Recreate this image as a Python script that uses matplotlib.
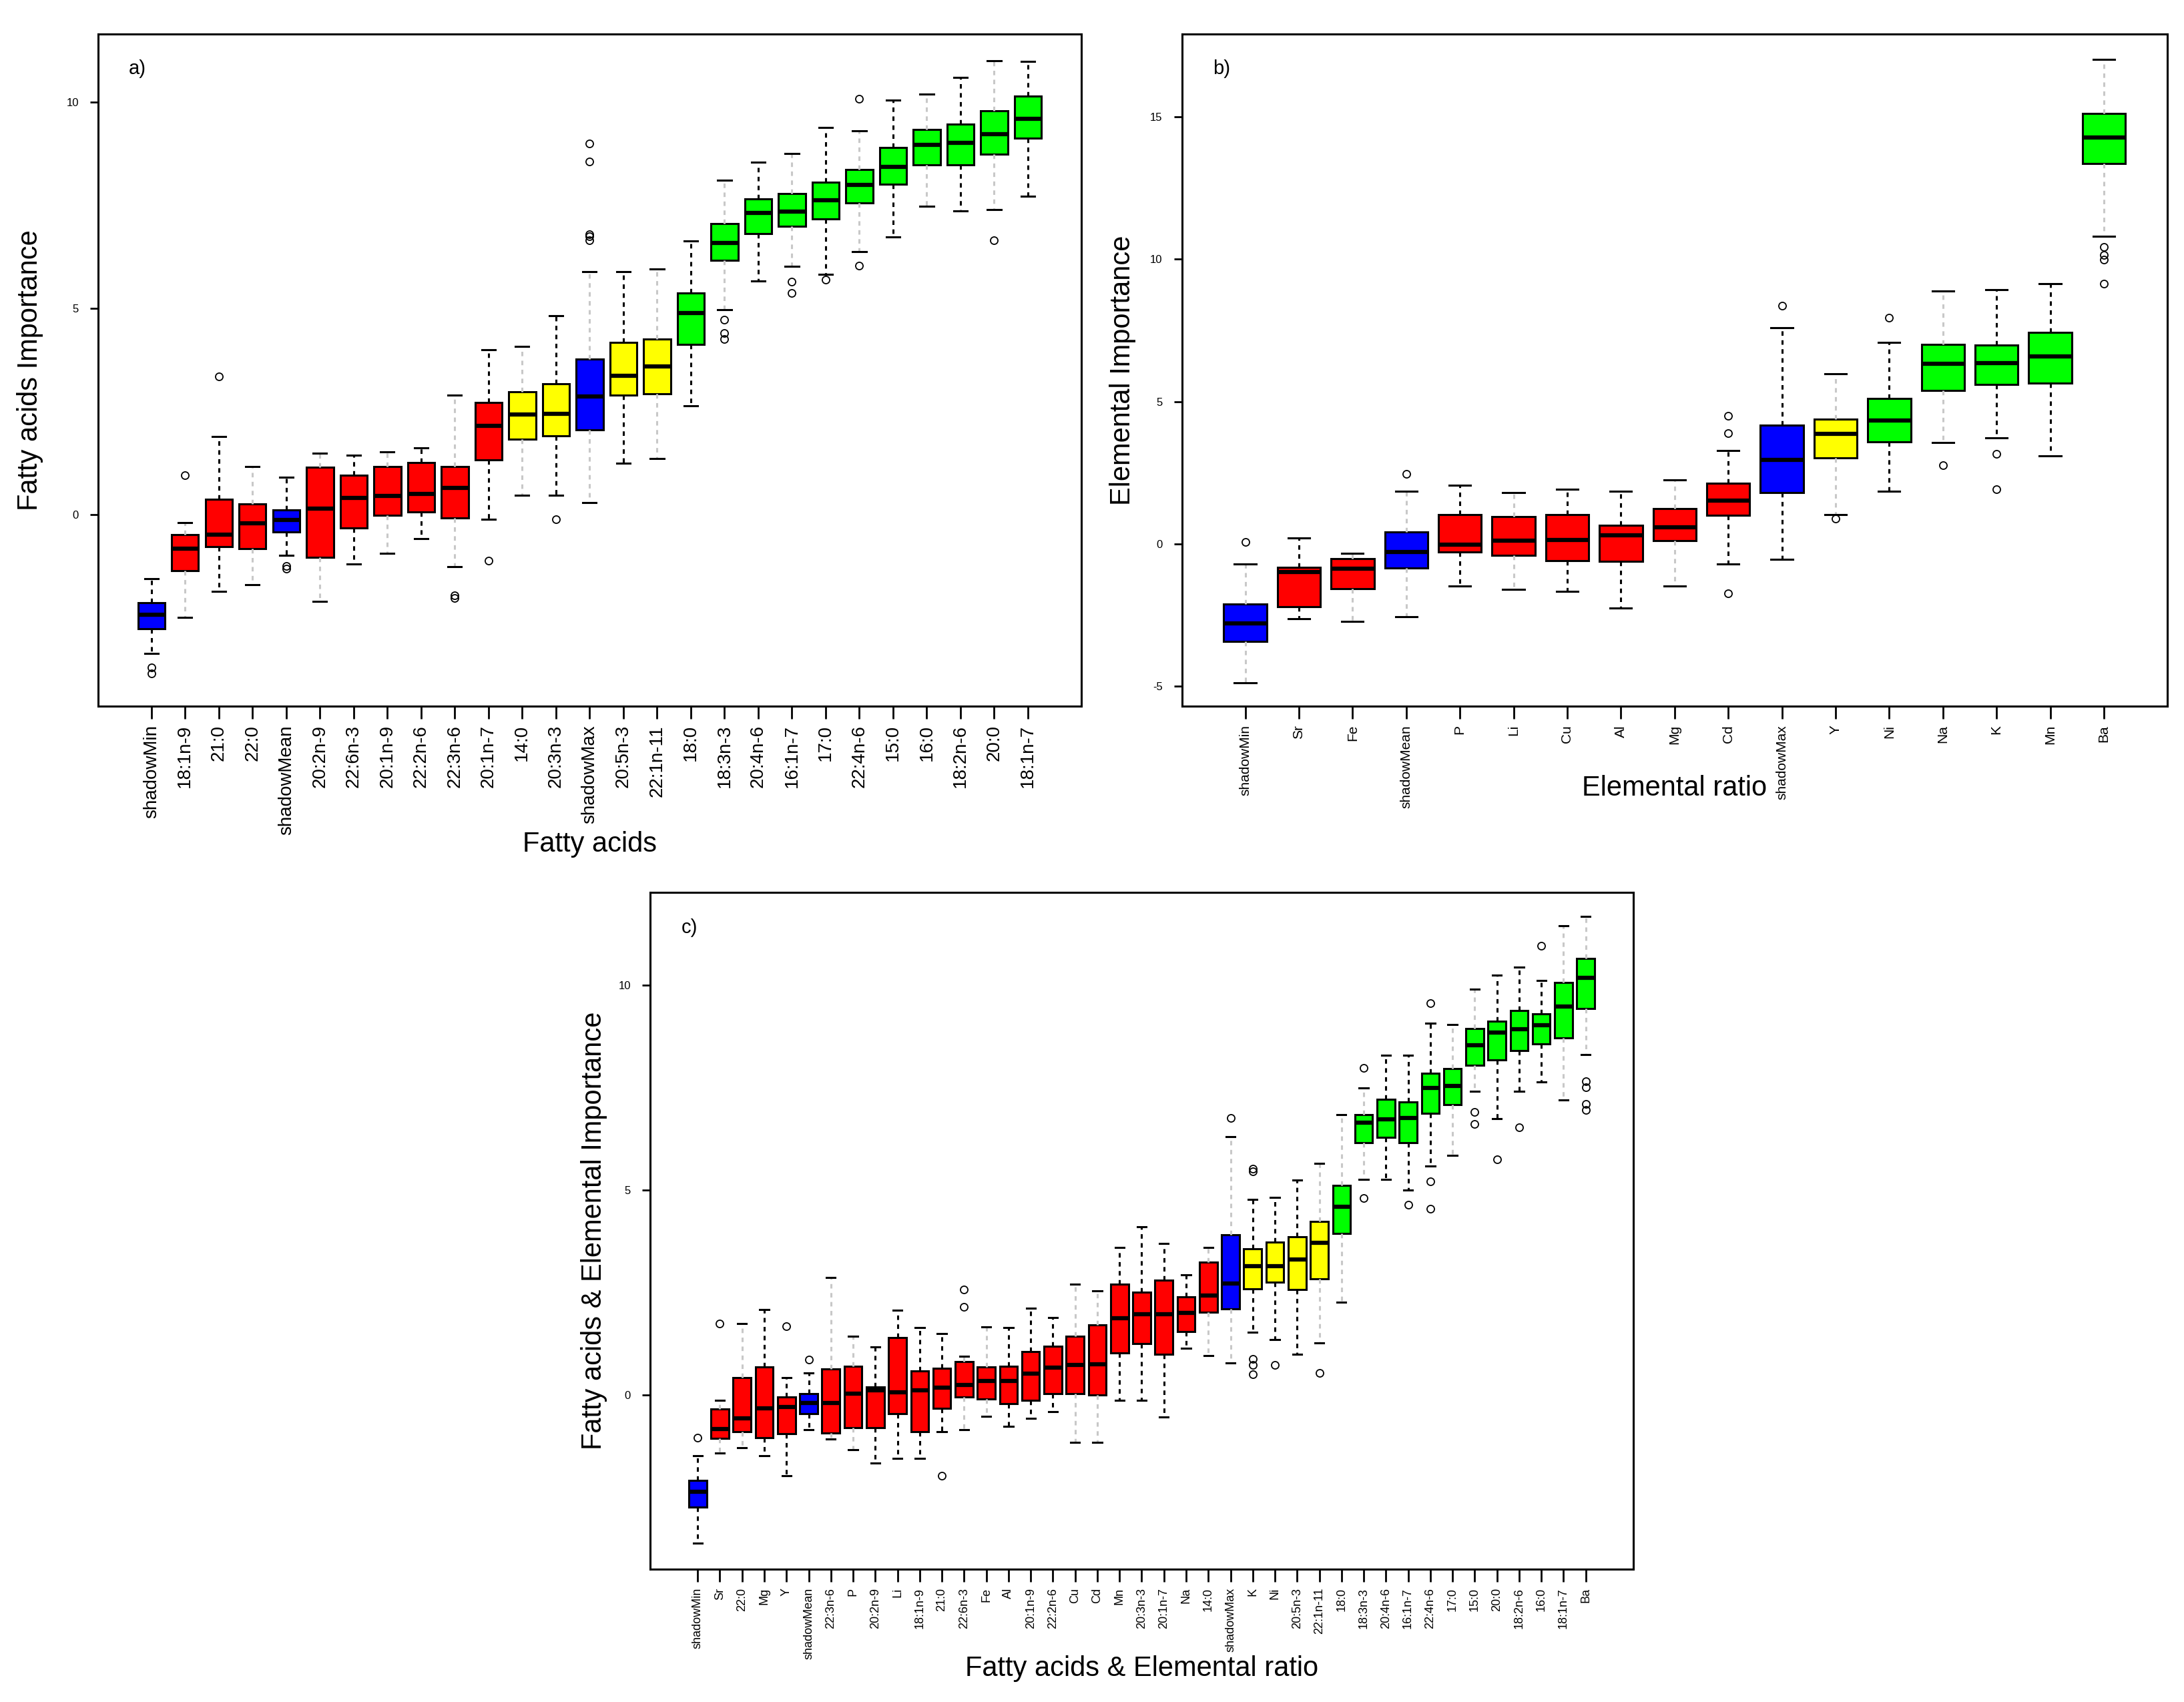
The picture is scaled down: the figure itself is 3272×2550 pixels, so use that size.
import matplotlib
matplotlib.use("Agg")
import matplotlib.pyplot as plt

plt.rcParams["font.family"] = ["Liberation Sans", "DejaVu Sans"]

# ---- panel a: fatty acids ----
a_names = ["shadowMin", "18:1n-9", "21:0", "22:0", "shadowMean", "20:2n-9", "22:6n-3",
           "20:1n-9", "22:2n-6", "22:3n-6", "20:1n-7", "14:0", "20:3n-3", "shadowMax",
           "20:5n-3", "22:1n-11", "18:0", "18:3n-3", "20:4n-6", "16:1n-7", "17:0",
           "22:4n-6", "15:0", "16:0", "18:2n-6", "20:0", "18:1n-7"]
a_group = ["S", "R", "R", "R", "S", "R", "R", "R", "R", "R", "R", "T", "T", "S",
           "T", "T", "C", "C", "C", "C", "C", "C", "C", "C", "C", "C", "C"]
a_med = [-2.43, -0.83, -0.48, -0.21, -0.13, 0.14, 0.40, 0.45, 0.50, 0.64, 2.15, 2.43, 2.45,
         2.87, 3.37, 3.59, 4.89, 6.59, 7.31, 7.34, 7.62, 8.00, 8.43, 8.97, 9.01, 9.23, 9.60]
a_q1 = [-2.77, -1.36, -0.78, -0.83, -0.43, -1.04, -0.32, -0.01, 0.07, -0.09, 1.33, 1.83, 1.91,
        2.05, 2.89, 2.93, 4.13, 6.16, 6.81, 6.99, 7.16, 7.56, 8.01, 8.48, 8.48, 8.74, 9.13]
a_q3 = [-2.13, -0.48, 0.37, 0.26, 0.11, 1.14, 0.96, 1.17, 1.26, 1.17, 2.71, 2.98, 3.17,
        3.77, 4.17, 4.26, 5.37, 7.06, 7.66, 7.79, 8.06, 8.37, 8.90, 9.34, 9.47, 9.79, 10.14]
a_lo = [-3.37, -2.50, -1.86, -1.70, -0.99, -2.10, -1.20, -0.94, -0.59, -1.26, -0.11, 0.46, 0.46,
        0.29, 1.25, 1.35, 2.64, 4.97, 5.66, 6.02, 5.83, 6.38, 6.73, 7.48, 7.36, 7.40, 7.71]
a_hi = [-1.56, -0.19, 1.89, 1.17, 0.90, 1.49, 1.44, 1.52, 1.62, 2.89, 3.99, 4.07, 4.82,
        5.89, 5.89, 5.95, 6.64, 8.10, 8.54, 8.76, 9.38, 9.30, 10.04, 10.20, 10.60, 11.00, 10.98]
a_out = [[-3.70, -3.85], [0.96], [3.35], [], [-1.31, -1.25], [], [], [], [], [-2.02, -1.96],
         [-1.12], [], [-0.11], [6.65, 6.75, 6.80, 8.56, 8.99], [], [], [], [4.73, 4.40, 4.26],
         [], [5.64, 5.37], [5.70], [10.08, 6.03], [], [], [], [6.65], []]

# ---- panel b: elemental ratios ----
b_names = ["shadowMin", "Sr", "Fe", "shadowMean", "P", "Li", "Cu", "Al", "Mg", "Cd",
           "shadowMax", "Y", "Ni", "Na", "K", "Mn", "Ba"]
b_group = ["S", "R", "R", "S", "R", "R", "R", "R", "R", "R", "S", "T", "C", "C", "C", "C", "C"]
b_med = [-2.79, -0.98, -0.87, -0.28, -0.03, 0.11, 0.15, 0.31, 0.59, 1.52, 2.94, 3.87, 4.33,
         6.32, 6.35, 6.58, 14.27]
b_q1 = [-3.41, -2.20, -1.58, -0.85, -0.28, -0.39, -0.59, -0.62, 0.12, 1.01, 1.81, 3.02, 3.59,
        5.39, 5.60, 5.65, 13.36]
b_q3 = [-2.12, -0.82, -0.51, 0.43, 1.04, 0.96, 1.04, 0.65, 1.24, 2.12, 4.18, 4.38, 5.11,
        7.01, 6.97, 7.43, 15.12]
b_lo = [-4.88, -2.63, -2.71, -2.55, -1.47, -1.59, -1.66, -2.24, -1.47, -0.70, -0.54, 1.04, 1.86,
        3.56, 3.72, 3.10, 10.80]
b_hi = [-0.70, 0.20, -0.34, 1.86, 2.06, 1.81, 1.93, 1.86, 2.24, 3.28, 7.58, 5.98, 7.07,
        8.87, 8.93, 9.13, 17.00]
b_out = [[0.08], [], [], [2.45], [], [], [], [], [], [3.90, 4.49, -1.73], [8.36], [0.90],
         [7.94], [2.76], [3.16, 1.93], [], [10.42, 10.14, 9.98, 9.13]]

# ---- panel c: fatty acids & elemental ratios ----
c_names = ["shadowMin", "Sr", "22:0", "Mg", "Y", "shadowMean", "22:3n-6", "P", "20:2n-9", "Li",
           "18:1n-9", "21:0", "22:6n-3", "Fe", "Al", "20:1n-9", "22:2n-6", "Cu", "Cd", "Mn",
           "20:3n-3", "20:1n-7", "Na", "14:0", "shadowMax", "K", "Ni", "20:5n-3", "22:1n-11",
           "18:0", "18:3n-3", "20:4n-6", "16:1n-7", "22:4n-6", "17:0", "15:0", "20:0",
           "18:2n-6", "16:0", "18:1n-7", "Ba"]
c_group = (["S"] + ["R"] * 4 + ["S"] + ["R"] * 18 + ["S"] + ["T"] * 4 + ["C"] * 12)
c_med = [-2.37, -0.84, -0.58, -0.33, -0.30, -0.20, -0.20, 0.02, 0.11, 0.06, 0.11, 0.17, 0.24,
         0.33, 0.33, 0.52, 0.66, 0.72, 0.74, 1.87, 1.96, 1.96, 2.00, 2.42, 2.72, 3.13, 3.14,
         3.30, 3.71, 4.59, 6.64, 6.72, 6.75, 7.49, 7.54, 8.52, 8.83, 8.92, 9.01, 9.47, 10.17]
c_q1 = [-2.75, -1.06, -0.91, -1.05, -0.96, -0.46, -0.94, -0.80, -0.80, -0.47, -0.91, -0.33,
        -0.06, -0.11, -0.22, -0.14, 0.02, 0.02, 0.00, 1.02, 1.24, 0.99, 1.54, 2.02, 2.09, 2.59,
        2.75, 2.56, 2.83, 3.94, 6.15, 6.28, 6.15, 6.86, 7.08, 8.04, 8.17, 8.40, 8.56, 8.70, 9.42]
c_q3 = [-2.09, -0.35, 0.41, 0.68, -0.06, 0.03, 0.63, 0.69, 0.19, 1.40, 0.58, 0.64, 0.80, 0.68,
        0.69, 1.05, 1.18, 1.43, 1.71, 2.70, 2.50, 2.79, 2.39, 3.24, 3.90, 3.56, 3.72, 3.85, 4.22,
        5.11, 6.83, 7.21, 7.14, 7.85, 7.95, 8.94, 9.12, 9.38, 9.30, 10.06, 10.65]
c_lo = [-3.63, -1.43, -1.30, -1.49, -1.98, -0.86, -1.08, -1.34, -1.67, -1.56, -1.56, -0.90,
        -0.86, -0.53, -0.77, -0.57, -0.41, -1.16, -1.16, -0.13, -0.13, -0.55, 1.13, 0.96, 0.77,
        1.52, 1.35, 0.99, 1.27, 2.26, 5.25, 5.25, 4.99, 5.58, 5.84, 7.40, 6.74, 7.41, 7.63,
        7.19, 8.30]
c_hi = [-1.49, -0.14, 1.74, 2.07, 0.41, 0.53, 2.86, 1.43, 1.16, 2.06, 1.63, 1.49, 0.94, 1.65,
        1.63, 2.11, 1.89, 2.70, 2.53, 3.60, 4.10, 3.69, 2.92, 3.60, 6.30, 4.76, 4.81, 5.23,
        5.65, 6.83, 7.49, 8.29, 8.29, 9.06, 9.03, 9.89, 10.24, 10.44, 10.10, 11.45, 11.67]
c_out = [[-1.05], [1.74], [], [], [1.67], [0.86], [], [], [], [], [], [-1.98], [2.15, 2.56],
         [], [], [], [], [], [], [], [], [], [], [], [6.75], [5.45, 5.52, 0.88, 0.72, 0.50],
         [0.72], [], [0.53], [], [7.98, 4.79], [], [4.63], [9.56, 5.21, 4.54], [], [6.90, 6.60],
         [5.75], [6.52], [10.96], [], [7.65, 7.50, 7.10, 6.94]]

GROUP_COLORS = {"S": "#0000FF", "R": "#FF0000", "T": "#FFFF00", "C": "#00FF00"}
FAINT = "#c8c8c8"

# whiskers that come out pale in the original raster
a_faint = list(range(1, 27, 2))
b_faint = [0, 2, 3, 5, 8, 11, 13, 16]
c_faint = [1, 2, 6, 7, 12, 13, 17, 18, 23, 24, 28, 29, 30, 34, 35, 39, 40]


def draw_panel(ax, names, group, med, q1, q3, lo, hi, out, faint, ylim, yticks,
               xfont, tag, xlabel, ylabel, xlab_y, ylab_x):
    n = len(names)
    pos = list(range(1, n + 1))
    stats = []
    for i in range(n):
        stats.append(dict(med=med[i], q1=q1[i], q3=q3[i], whislo=lo[i], whishi=hi[i],
                          fliers=out[i], label=names[i]))
    bp = ax.bxp(stats, positions=pos, widths=0.8, capwidths=0.4, patch_artist=True,
                boxprops=dict(edgecolor="black", linewidth=2.2),
                medianprops=dict(color="black", linewidth=4.5, solid_capstyle="butt"),
                whiskerprops=dict(color="black", linewidth=2.2, linestyle=(0, (2.2, 2.2))),
                capprops=dict(color="black", linewidth=2.2),
                flierprops=dict(marker="o", markerfacecolor="none", markeredgecolor="black",
                                markersize=8, markeredgewidth=1.3))
    for patch, g in zip(bp["boxes"], group):
        patch.set_facecolor(GROUP_COLORS[g])
    for i in faint:
        bp["whiskers"][2 * i].set_color(FAINT)
        bp["whiskers"][2 * i + 1].set_color(FAINT)

    ax.set_xlim(0.5 - 0.04 * n, n + 0.5 + 0.04 * n)
    ax.set_ylim(*ylim)
    ax.set_xticks(pos)
    ax.set_xticklabels(names, rotation=90, fontsize=xfont)
    ax.set_yticks(yticks)
    ax.set_yticklabels([str(t) for t in yticks], fontsize=12)
    ax.tick_params(axis="x", length=14, width=2, pad=6)
    ax.tick_params(axis="y", length=9, width=2, pad=12)
    for i, t in enumerate(ax.xaxis.get_major_ticks()):
        if i in faint:
            t.tick1line.set_color(FAINT)
    for sp in ax.spines.values():
        sp.set_linewidth(2.2)

    ax.set_xlabel(xlabel, fontsize=30)
    ax.xaxis.set_label_coords(0.5, xlab_y)
    ax.xaxis.label.set_va("center")
    ax.set_ylabel(ylabel, fontsize=30)
    ax.yaxis.set_label_coords(ylab_x, 0.5)
    ax.yaxis.label.set_va("center")
    ax.text(0.04, 0.948, tag, transform=ax.transAxes, fontsize=21, ha="center", va="center")


fig = plt.figure(figsize=(32.73, 25.5), dpi=100)
ax_a = fig.add_axes([0.0449, 0.585, 0.450, 0.395])
ax_b = fig.add_axes([0.541, 0.585, 0.451, 0.395])
ax_c = fig.add_axes([0.2976, 0.078, 0.450, 0.3975])

draw_panel(ax_a, a_names, a_group, a_med, a_q1, a_q3, a_lo, a_hi, a_out, a_faint,
           (-4.65, 11.65), [0, 5, 10], 20, "a)", "Fatty acids", "Fatty acids Importance",
           -0.205, -0.069)
draw_panel(ax_b, b_names, b_group, b_med, b_q1, b_q3, b_lo, b_hi, b_out, b_faint,
           (-5.7, 17.9), [-5, 0, 5, 10, 15], 15, "b)", "Elemental ratio",
           "Elemental Importance", -0.122, -0.06)
draw_panel(ax_c, c_names, c_group, c_med, c_q1, c_q3, c_lo, c_hi, c_out, c_faint,
           (-4.26, 12.25), [0, 5, 10], 13, "c)", "Fatty acids & Elemental ratio",
           "Fatty acids & Elemental Importance", -0.147, -0.057)

fig.savefig("out.png", dpi=100, facecolor="white")
